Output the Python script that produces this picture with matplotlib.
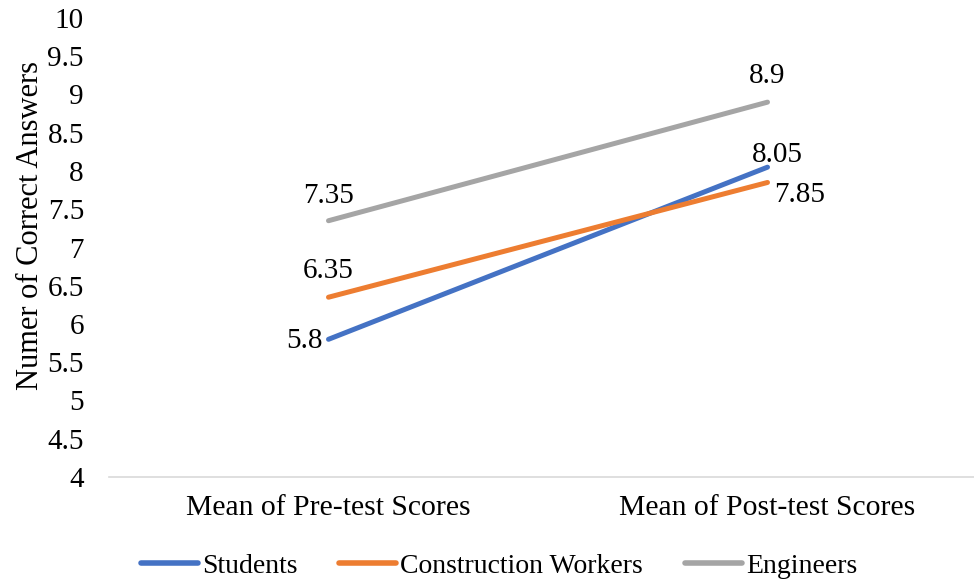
import numpy as np
import matplotlib.pyplot as plt

plt.rcParams['font.family'] = ['Liberation Serif', 'DejaVu Serif']

categorias = ["Mean of Pre-test Scores", "Mean of Post-test Scores"]
students = [5.8, 8.05]
workers = [6.35, 7.85]
engineers = [7.35, 8.9]

fig = plt.figure(figsize=(9.74, 5.84), dpi=100)
ax = fig.add_axes([109/974, 107/584, 878/974, 459/584])

x = np.arange(len(categorias))
l1, = ax.plot(x, students, color="#4472C4", lw=3.6, solid_capstyle="round", label="Students")
l2, = ax.plot(x, workers, color="#ED7D31", lw=3.6, solid_capstyle="round", label="Construction Workers")
l3, = ax.plot(x, engineers, color="#A5A5A5", lw=3.6, solid_capstyle="round", label="Engineers")

ax.set_xlim(-0.5, 1.5)
ax.set_ylim(4, 10)
ax.set_yticks(np.arange(4, 10.01, 0.5))
ax.set_yticklabels(["4", "4.5", "5", "5.5", "6", "6.5", "7", "7.5", "8", "8.5", "9", "9.5", "10"])
ax.set_xticks(x)
ax.set_xticklabels(categorias)
ax.tick_params(axis="y", length=0, pad=18, labelsize=21)
ax.tick_params(axis="x", length=0, pad=13, labelsize=21.3)
for s in ["top", "right", "left"]:
    ax.spines[s].set_visible(False)
ax.spines["bottom"].set_color("#D9D9D9")
ax.spines["bottom"].set_linewidth(1.2)
ax.set_ylabel("Numer of Correct Answers", fontsize=22)
ax.yaxis.set_label_coords(-0.073, 0.547)

# etiquetas de datos
def etiqueta(xv, yv, dx, dy, ha="center"):
    ax.annotate(str(yv), (xv, yv), xytext=(dx, dy), textcoords="offset points",
                ha=ha, va="center", fontsize=21, annotation_clip=False)

etiqueta(0, engineers[0], 0, 18)
etiqueta(0, workers[0], 0, 19)
etiqueta(0, students[0], -4, -1, ha="right")
etiqueta(1, engineers[1], 0, 19)
etiqueta(1, students[1], 7, 9)
etiqueta(1, workers[1], 23, -9)

leg = fig.legend(handles=[l1, l2, l3], loc="center", bbox_to_anchor=(499/974, 1 - 566/584),
                 ncol=3, frameon=False, fontsize=20, handlelength=2.05, handletextpad=0.15,
                 columnspacing=1.5)
for h in leg.legend_handles:
    h.set_linewidth(4)

fig.savefig("out.png", dpi=100)
